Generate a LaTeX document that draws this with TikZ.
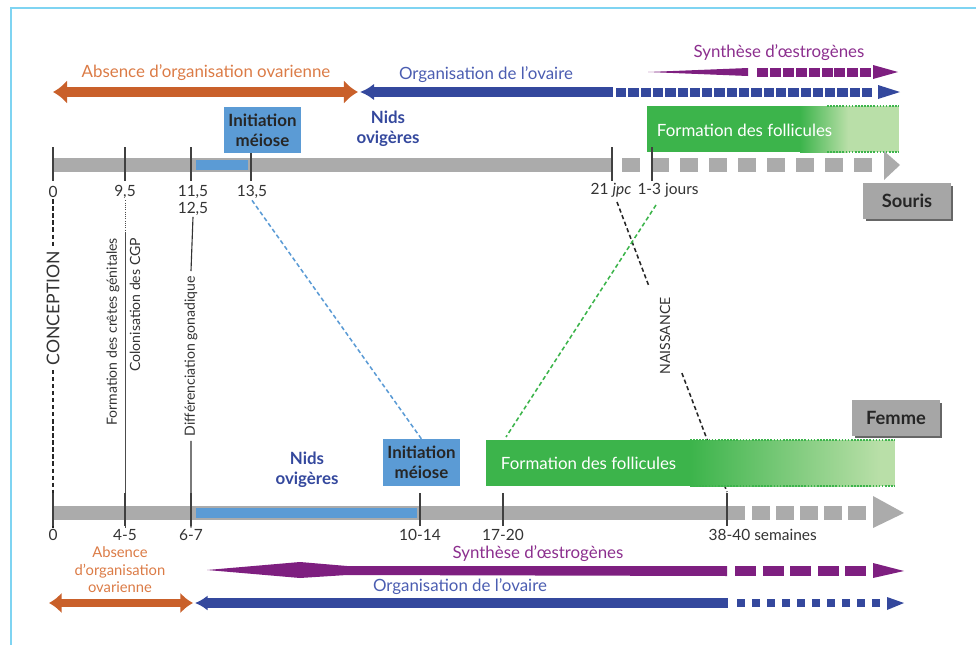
\documentclass[tikz,border=0pt]{standalone}
\usepackage{fontspec}
\setmainfont{Lato}
\usetikzlibrary{arrows.meta,calc,positioning,shadows}

\definecolor{orangeA}{HTML}{C9602A}
\definecolor{orangeT}{HTML}{DB7B46}
\definecolor{bleuA}{HTML}{34489D}
\definecolor{bleuT}{HTML}{4B5DB1}
\definecolor{violetA}{HTML}{7E1F80}
\definecolor{violetT}{HTML}{8C2F8E}
\definecolor{vertA}{HTML}{3CB44B}
\definecolor{vertC}{HTML}{B9DFA8}
\definecolor{bleuC}{HTML}{5B9BD5}
\definecolor{grisB}{HTML}{ABABAB}
\definecolor{cadre}{HTML}{7FD4F2}

\begin{document}
\begin{tikzpicture}[
			x=0.025cm, y=-0.025cm,
			every node/.style={font=\fontsize{12}{14}\selectfont},
			tick/.style={black!75, line width=1.1pt},
			graduation/.style={text=black!80, inner sep=1pt, font=\fontsize{11}{13}\selectfont},
			vertical/.style={rotate=90, text=black!80, font=\fontsize{10}{12}\selectfont},
			meiose/.style={fill=bleuC, text=black!85, align=center, inner sep=0pt,
				font=\bfseries\fontsize{12}{14}\selectfont, minimum width=55pt, minimum height=33pt},
			nids/.style={text=bleuA, align=center, font=\bfseries\fontsize{12}{14.5}\selectfont},
			espece/.style={fill=black!35, text=black!85, inner sep=0pt,
				font=\bfseries\fontsize{13}{15}\selectfont, minimum width=62pt, minimum height=25pt,
				general shadow={fill=black!60, shadow xshift=2pt, shadow yshift=-2pt}},
			lien/.style={dashed, dash pattern=on 3pt off 2pt, line width=1.1pt}
			]
			\useasboundingbox (0,0) rectangle (976,645);
			\draw[cadre, line width=1.5pt] (11,645) -- (11,8) -- (976,8);

			% graduations
			\node[graduation] (g0) at (53,192) {0};
			\node[graduation] (g95) at (125,192) {9,5};
			\node[graduation] (g115) at (193,192) {11,5};
			\node[graduation, below=0pt of g115] (g125) {12,5};
			\node[graduation] (g135) at (252,192) {13,5};
			\node[graduation] (g21) at (611,190) {21 \textit{jpc}};
			\node[graduation, right=2pt of g21] (g13j) {1-3 jours};
			\node[graduation] (h0) at (53,535) {0};
			\node[graduation] (h45) at (125,535) {4-5};
			\node[graduation] (h67) at (191,535) {6-7};
			\node[graduation] (h1014) at (420,535) {10-14};
			\node[graduation] (h1720) at (503,535) {17-20};
			\node[graduation, anchor=west] (h3840) at (707,535) {38-40 semaines};

			% evenements
			\node[vertical, font=\fontsize{12.5}{14}\selectfont] (concep) at (53,308) {CONCEPTION};
			\node[vertical, anchor=east] (cretes) at (113,233) {Formation des crêtes génitales};
			\node[vertical, anchor=east] (cgp) at (135,233) {Colonisation des CGP};
			\node[vertical] (diff) at (191,356) {Différenciation gonadique};
			\node[vertical] (naiss) at (665,336) {NAISSANCE};
			\coordinate (n1) at (617,202);
			\coordinate (n2) at (727,492);
			\coordinate (f1) at (656,205);
			\coordinate (f2) at (506,437);

			\draw[lien, black!85] (g0.south) -- (concep.east) (concep.west) -- (h0.north);
			\draw[black!70, densely dotted, line width=0.6pt] (g95.south) -- (125,233);
			\draw[black!70, line width=0.6pt] (125,233) -- (h45.north);
			\draw[black!80, line width=0.8pt] (g125.south) -- (diff.east) (diff.west) -- (h67.north);
			\draw[lien, black!85] (n1) -- ($(n1)!0.29!(n2)$) ($(n1)!0.59!(n2)$) -- (n2);
			\draw[lien, vertA] (f1) -- (f2);

			% formation des follicules
			\fill[vertA] (647,106) rectangle (800,152);
			\shade[left color=vertA, right color=vertC] (800,106) rectangle (848,152);
			\fill[vertC] (848,106) rectangle (899,152);
			\draw[vertA, densely dotted, line width=1.2pt] (827,106) -- (899,106) (827,152) -- (899,152);
			\node[anchor=west, text=white] (follS) at (652,130) {Formation des follicules};
			\fill[vertA] (486,440) rectangle (690,486);
			\shade[left color=vertA, right color=vertC] (690,440) rectangle (880,486);
			\fill[vertC] (880,440) rectangle (895,486);
			\draw[vertA, densely dotted, line width=1.2pt] (690,440) -- (895,440) (690,486) -- (895,486);
			\node[anchor=west, text=white] (follF) at (496,463) {Formation des follicules};

			% frises
			\fill[grisB] (53,158) rectangle (612,172);
			\foreach \x in {622,651,...,855} \fill[grisB] (\x,158) rectangle +(18,14);
			\fill[grisB] (884,151) -- (900,165) -- (884,180) -- cycle;
			\fill[bleuC] (196,160) rectangle (248,170);
			\foreach \x in {53,125,191,251,612,652} \draw[tick] (\x,147) -- (\x,181);

			\fill[grisB] (53,506) rectangle (745,520);
			\foreach \x in {752,776,...,850} \fill[grisB] (\x,506) rectangle +(18,14);
			\fill[grisB] (873,496) -- (904,513) -- (873,528) -- cycle;
			\fill[bleuC] (196,508) rectangle (417,518);
			\foreach \x in {53,125,191,420,503,727} \draw[tick] (\x,493) -- (\x,526);

			\node[meiose] (iniS) at (262.5,130) {Initiation\\méiose};
			\node[meiose] (iniF) at (421.5,462.5) {Initiation\\méiose};
			\draw[lien, bleuC] (g135.south) -- (iniF.north);
			\node[nids] (nidsS) at (388,129) {Nids\\ovigères};
			\node[nids] (nidsF) at (307,470) {Nids\\ovigères};
			\node[espece] (souris) at (907,201) {Souris};
			\node[espece] (femme) at (896,418) {Femme};

			% souris : periodes
			\draw[orangeA, line width=6.5pt, {Latex[length=10pt,width=17pt]}-{Latex[length=10pt,width=17pt]}] (53,92) -- (358,92);
			\node[text=orangeT] (absS) at (206,73) {Absence d’organisation ovarienne};
			\draw[bleuA, line width=6.5pt, {Latex[length=10pt,width=12pt]}-] (360,92) -- (613,92);
			\foreach \i in {0,...,20} \fill[bleuA] ({616+\i*12.3},87.5) rectangle +(10.3,9);
			\fill[bleuA] (878,85) -- (900,92) -- (878,99) -- cycle;
			\node[text=bleuT] (orgS) at (486,75) {Organisation de l’ovaire};
			\fill[violetA] (648,72) -- (748,68) -- (748,76) -- cycle;
			\foreach \i in {0,...,8} \fill[violetA] ({757+\i*12.9},67.5) rectangle +(11,9);
			\fill[violetA] (873,65) -- (898,72) -- (873,79) -- cycle;
			\node[text=violetT] (oesS) at (779,53) {Synthèse d’œstrogènes};

			% femme : periodes
			\node[text=orangeT, align=center, font=\fontsize{10.5}{12.5}\selectfont] (absF) at (120,570) {Absence\\d’organisation\\ovarienne};
			\draw[orangeA, line width=6pt, {Latex[length=9pt,width=15pt]}-{Latex[length=9pt,width=15pt]}] (49,603) -- (193,603);
			\draw[bleuA, line width=7pt, {Latex[length=9pt,width=11pt]}-] (195,603) -- (728,603);
			\foreach \i in {0,...,9} \fill[bleuA] ({737+\i*15},599) rectangle +(8,8);
			\fill[bleuA] (887,597) -- (904,603) -- (887,610) -- cycle;
			\node[text=bleuT] (orgF) at (460,587) {Organisation de l’ovaire};
			\fill[violetA] (207,570) -- (300,562) -- (347,566) -- (727,566) -- (727,576) -- (347,575) -- (300,578) -- cycle;
			\foreach \i in {0,...,4} \fill[violetA] ({735+\i*27.5},566) rectangle +(21,10);
			\fill[violetA] (873,563) -- (904,571) -- (873,578) -- cycle;
			\node[text=violetT] (oesF) at (538,554) {Synthèse d’œstrogènes};
		\end{tikzpicture}
\end{document}
